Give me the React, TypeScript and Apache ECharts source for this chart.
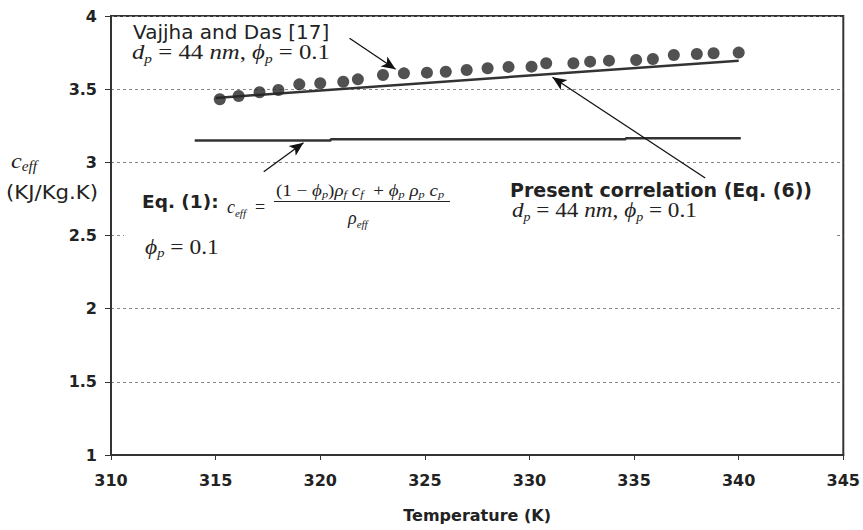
import React, { useEffect, useRef } from "react";
import * as echarts from "echarts";

// Vajjha and Das [17] measured points (Temperature K, c_eff KJ/Kg.K)
const vajjhaTemps = [315.2, 316.1, 317.1, 318.0, 319.0, 320.0, 321.1, 321.8, 323.0, 324.0, 325.1, 326.0, 327.0, 328.0, 329.0, 330.1, 330.8, 332.1, 332.9, 333.8, 335.1, 335.9, 336.9, 338.0, 338.8, 340.0];
const vajjhaValues = [3.431, 3.453, 3.479, 3.494, 3.533, 3.54, 3.551, 3.567, 3.597, 3.608, 3.613, 3.619, 3.631, 3.643, 3.652, 3.654, 3.677, 3.677, 3.688, 3.695, 3.699, 3.706, 3.733, 3.74, 3.745, 3.75];

// Present correlation (Eq. 6)
const correlationTemps = [315, 340];
const correlationValues = [3.44, 3.695];

// Eq. (1)
const eq1Temps = [314, 320.5, 320.5, 334.6, 334.6, 340.1];
const eq1Values = [3.15, 3.15, 3.157, 3.157, 3.165, 3.165];

// Annotation arrows: [tailT, tailV, headT, headV]
const arrowVajjha = [321.4, 3.848, 323.6, 3.636];
const arrowEq1 = [317.3, 2.936, 319.2, 3.134];
const arrowCorrelation = [338.4, 2.893, 331.1, 3.581];

const xMin = 310;
const xMax = 345;
const xStep = 5;
const yMin = 1;
const yMax = 4;
const yStep = 0.5;

const SANS = "'DejaVu Sans', sans-serif";
const SERIF = "'Liberation Serif', 'DejaVu Serif', 'Times New Roman', serif";
const INK = "#222";

function mathRich(size: number) {
  return {
    i: { fontFamily: SERIF, fontStyle: "italic", fontSize: size, lineHeight: size + 4, fill: INK },
    n: { fontFamily: SERIF, fontSize: size, lineHeight: size + 4, fill: INK },
    s: { fontFamily: SERIF, fontStyle: "italic", fontSize: Math.round(size * 0.62), lineHeight: Math.round(size * 0.68), verticalAlign: "bottom", fill: INK },
  };
}

function arrowLine(a: number[]) {
  return [
    { coord: [a[0], a[1]], symbol: "none" },
    { coord: [a[2], a[3]], symbol: "arrow", symbolSize: [9, 14] },
  ];
}

export default function App() {
  const ref = useRef<HTMLDivElement>(null);

  useEffect(() => {
    if (!ref.current) return;
    const chart = echarts.init(ref.current, undefined, { renderer: "svg" });
    const option: any = {
      animation: false,
      backgroundColor: "#fff",
      grid: { left: 111, top: 16, right: 16, bottom: 75, show: true, borderColor: "#333", borderWidth: 2, backgroundColor: "transparent" },
      xAxis: {
        type: "value",
        min: xMin,
        max: xMax,
        interval: xStep,
        name: "Temperature (K)",
        nameLocation: "middle",
        nameGap: 52,
        nameTextStyle: { fontFamily: SANS, fontWeight: "bold", fontSize: 16, color: INK },
        axisLine: { lineStyle: { color: "#333", width: 2 } },
        axisTick: { show: true, length: 5, lineStyle: { color: "#333", width: 1 } },
        axisLabel: { margin: 17, fontFamily: SANS, fontWeight: "bold", fontSize: 16, color: INK },
        splitLine: { show: false },
      },
      yAxis: {
        type: "value",
        min: yMin,
        max: yMax,
        interval: yStep,
        axisLine: { show: true, lineStyle: { color: "#333", width: 2 } },
        axisTick: { show: true, length: 6, lineStyle: { color: "#333", width: 1 } },
        axisLabel: { margin: 14, fontFamily: SANS, fontWeight: "bold", fontSize: 16, color: INK },
        splitLine: { show: true, lineStyle: { color: "#888", width: 1, type: [3, 3] } },
      },
      series: [
        {
          name: "Eq. (1)",
          type: "line",
          data: eq1Temps.map((t, i) => [t, eq1Values[i]]),
          showSymbol: false,
          symbol: "none",
          lineStyle: { color: "#333", width: 2.5 },
          z: 3,
        },
        {
          name: "Present correlation",
          type: "line",
          data: correlationTemps.map((t, i) => [t, correlationValues[i]]),
          showSymbol: false,
          symbol: "none",
          lineStyle: { color: "#333", width: 2.5 },
          z: 3,
          markLine: {
            silent: true,
            label: { show: false },
            lineStyle: { color: "#111", width: 1.3, type: "solid" },
            itemStyle: { color: "#111" },
            data: [arrowLine(arrowVajjha), arrowLine(arrowEq1), arrowLine(arrowCorrelation)],
          },
        },
        {
          name: "Vajjha and Das [17]",
          type: "scatter",
          data: vajjhaTemps.map((t, i) => [t, vajjhaValues[i]]),
          symbol: "circle",
          symbolSize: 12,
          itemStyle: { color: "#262626" },
          z: 4,
        },
      ],
      graphic: [
        // white boxes behind annotation texts (hide the 2.5 gridline there)
        { type: "rect", z: 1, silent: true, shape: { x: 124, y: 231, width: 710, height: 10 }, style: { fill: "#fff" } },
        // y-axis title
        { type: "text", z: 10, x: 11, y: 160, scaleX: 1.1, style: { text: "{i|c}{s|eff}", rich: mathRich(22), align: "left", verticalAlign: "middle" } },
        { type: "text", z: 10, x: 6, y: 192, scaleX: 1.12, style: { text: "(KJ/Kg.K)", fontFamily: SANS, fontSize: 19, fill: INK, align: "left", verticalAlign: "middle" } },
        // Vajjha and Das label
        { type: "text", z: 10, x: 133, y: 32, style: { text: "Vajjha and Das [17]", fontFamily: SANS, fontSize: 20, fill: INK, align: "left", verticalAlign: "middle" } },
        { type: "text", z: 10, x: 132, y: 52, scaleX: 1.18, style: { text: "{i|d}{s|p}{n| = 44 }{i|nm}{n|, }{i|ϕ}{s|p}{n| = 0.1}", rich: mathRich(21), align: "left", verticalAlign: "middle" } },
        // Eq. (1)
        { type: "text", z: 10, x: 142, y: 201, style: { text: "Eq. (1):", fontFamily: SANS, fontWeight: "bold", fontSize: 18.5, fill: INK, align: "left", verticalAlign: "middle" } },
        { type: "text", z: 10, x: 227, y: 207, style: { text: "{i|c}{s|eff}{n|  =}", rich: mathRich(18), align: "left", verticalAlign: "middle" } },
        { type: "text", z: 10, x: 276, y: 190, scaleX: 1.12, style: { text: "{n|(1 − }{i|ϕ}{s|p}{n|)}{i|ρ}{s|f}{i| c}{s|f}{n|  + }{i|ϕ}{s|p}{i| ρ}{s|p}{i| c}{s|p}", rich: mathRich(17), align: "left", verticalAlign: "middle" } },
        { type: "line", z: 10, shape: { x1: 274, y1: 201.5, x2: 450, y2: 201.5 }, style: { stroke: INK, lineWidth: 1 } },
        { type: "text", z: 10, x: 348, y: 218, style: { text: "{i|ρ}{s|eff}", rich: mathRich(18), align: "left", verticalAlign: "middle" } },
        { type: "text", z: 10, x: 145, y: 247, scaleX: 1.12, style: { text: "{i|ϕ}{s|p}{n| = 0.1}", rich: mathRich(21), align: "left", verticalAlign: "middle" } },
        // Present correlation
        { type: "text", z: 10, x: 510, y: 190, style: { text: "Present correlation (Eq. (6))", fontFamily: SANS, fontWeight: "bold", fontSize: 19, fill: INK, align: "left", verticalAlign: "middle" } },
        { type: "text", z: 10, x: 512, y: 211, scaleX: 1.16, style: { text: "{i|d}{s|p}{n| = 44 }{i|nm}{n|, }{i|ϕ}{s|p}{n| = 0.1}", rich: mathRich(20), align: "left", verticalAlign: "middle" } },
      ],
    };
    chart.setOption(option);
    return () => chart.dispose();
  }, []);

  return <div ref={ref} style={{ width: 863, height: 530, position: "absolute", left: 0, top: 0 }} />;
}
